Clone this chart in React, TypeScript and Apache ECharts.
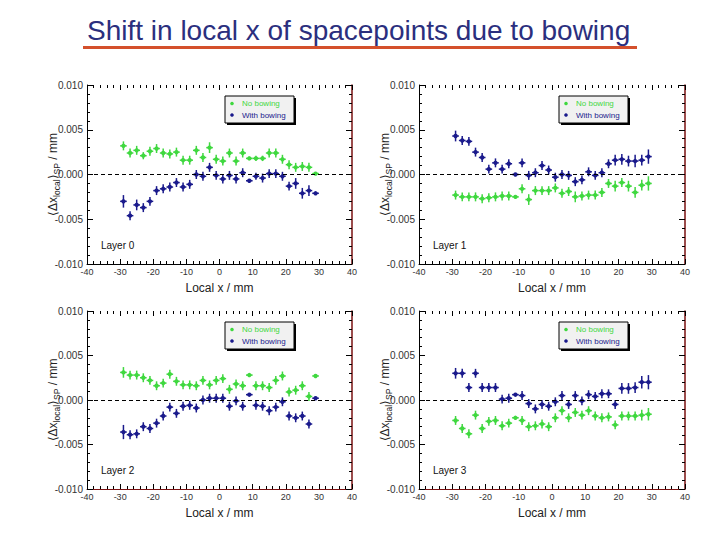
import React, { useEffect, useRef } from "react";
import * as echarts from "echarts";

const X_CENTERS = [-29, -27, -25, -23, -21, -19, -17, -15, -13, -11, -9, -7, -5, -3, -1, 1, 3, 5, 7, 9, 11, 13, 15, 17, 19, 21, 23, 25, 27, 29];
const X_HALF_WIDTH = 1;
const X_TICKS = { min: -40, max: 40, interval: 10 };
const Y_TICKS = { min: -0.01, max: 0.01, interval: 0.005 };

const LAYER_NAMES = ["Layer 0", "Layer 1", "Layer 2", "Layer 3"];
const SERIES_NAMES = ["No bowing", "With bowing"];

// Layer 0
const L0_NO = [0.0032, 0.0024, 0.0027, 0.0021, 0.0026, 0.0029, 0.0024, 0.0023, 0.0025, 0.0016, 0.0016, 0.0027, 0.0019, 0.0030, 0.0017, 0.0015, 0.0024, 0.0015, 0.0024, 0.0018, 0.0018, 0.0018, 0.0024, 0.0024, 0.0017, 0.0011, 0.0008, 0.0009, 0.0008, 0.0001];
const L0_NO_ERR = [0.0005, 0.0005, 0.0005, 0.0004, 0.0005, 0.0005, 0.0005, 0.0005, 0.0005, 0.0005, 0.0005, 0.0005, 0.0005, 0.0006, 0.0005, 0.0005, 0.0005, 0.0005, 0.0005, 0.0002, 0.0003, 0.0003, 0.0005, 0.0005, 0.0005, 0.0005, 0.0005, 0.0005, 0.0005, 0.0001];
const L0_WITH = [-0.0030, -0.0046, -0.0034, -0.0037, -0.0030, -0.0018, -0.0016, -0.0014, -0.0009, -0.0014, -0.0011, 0.0000, -0.0002, 0.0008, -0.0001, -0.0005, -0.0001, -0.0005, 0.0002, -0.0007, -0.0002, -0.0004, 0.0001, 0.0001, -0.0002, -0.0013, -0.0010, -0.0021, -0.0018, -0.0021];
const L0_WITH_ERR = [0.0007, 0.0005, 0.0006, 0.0005, 0.0005, 0.0005, 0.0005, 0.0005, 0.0005, 0.0005, 0.0005, 0.0005, 0.0005, 0.0005, 0.0005, 0.0005, 0.0005, 0.0005, 0.0005, 0.0001, 0.0004, 0.0005, 0.0005, 0.0005, 0.0005, 0.0005, 0.0006, 0.0006, 0.0006, 0.0001];

// Layer 1
const L1_NO = [-0.0023, -0.0025, -0.0025, -0.0025, -0.0027, -0.0026, -0.0025, -0.0024, -0.0024, -0.0025, -0.0016, -0.0028, -0.0018, -0.0018, -0.0018, -0.0015, -0.0021, -0.0019, -0.0025, -0.0024, -0.0023, -0.0023, -0.0020, -0.0010, -0.0013, -0.0009, -0.0013, -0.0020, -0.0012, -0.0010];
const L1_NO_ERR = [0.0005, 0.0005, 0.0005, 0.0005, 0.0005, 0.0005, 0.0005, 0.0005, 0.0005, 0.0001, 0.0005, 0.0006, 0.0005, 0.0005, 0.0005, 0.0005, 0.0005, 0.0005, 0.0006, 0.0005, 0.0005, 0.0005, 0.0005, 0.0005, 0.0006, 0.0005, 0.0006, 0.0006, 0.0006, 0.0008];
const L1_WITH = [0.0043, 0.0038, 0.0037, 0.0025, 0.0019, 0.0006, 0.0013, 0.0006, 0.0012, 0.0000, 0.0013, -0.0001, 0.0002, 0.0010, 0.0005, -0.0003, 0.0000, -0.0001, -0.0008, -0.0006, 0.0003, -0.0001, 0.0002, 0.0012, 0.0016, 0.0017, 0.0015, 0.0015, 0.0016, 0.0020];
const L1_WITH_ERR = [0.0006, 0.0005, 0.0005, 0.0005, 0.0005, 0.0005, 0.0005, 0.0005, 0.0005, 0.0001, 0.0005, 0.0005, 0.0005, 0.0005, 0.0005, 0.0005, 0.0005, 0.0005, 0.0005, 0.0005, 0.0005, 0.0005, 0.0005, 0.0005, 0.0006, 0.0006, 0.0006, 0.0007, 0.0006, 0.0008];

// Layer 2
const L2_NO = [0.0031, 0.0028, 0.0028, 0.0025, 0.0022, 0.0016, 0.0019, 0.0029, 0.0021, 0.0017, 0.0017, 0.0016, 0.0022, 0.0017, 0.0022, 0.0024, 0.0012, 0.0018, 0.0016, 0.0028, 0.0016, 0.0016, 0.0014, 0.0022, 0.0027, 0.0009, 0.0011, 0.0016, 0.0004, 0.0027];
const L2_NO_ERR = [0.0006, 0.0005, 0.0005, 0.0005, 0.0005, 0.0005, 0.0005, 0.0005, 0.0005, 0.0005, 0.0005, 0.0005, 0.0005, 0.0005, 0.0005, 0.0005, 0.0005, 0.0005, 0.0005, 0.0001, 0.0005, 0.0005, 0.0005, 0.0005, 0.0005, 0.0005, 0.0005, 0.0005, 0.0005, 0.0001];
const L2_WITH = [-0.0036, -0.0039, -0.0038, -0.0030, -0.0032, -0.0026, -0.0018, -0.0008, -0.0015, -0.0007, -0.0006, -0.0009, 0.0000, 0.0002, 0.0002, 0.0002, -0.0007, -0.0001, -0.0007, 0.0006, -0.0006, -0.0007, -0.0012, -0.0008, -0.0002, -0.0018, -0.0020, -0.0018, -0.0027, 0.0002];
const L2_WITH_ERR = [0.0008, 0.0005, 0.0005, 0.0005, 0.0005, 0.0005, 0.0005, 0.0005, 0.0005, 0.0005, 0.0005, 0.0005, 0.0005, 0.0005, 0.0005, 0.0005, 0.0005, 0.0005, 0.0005, 0.0001, 0.0005, 0.0005, 0.0005, 0.0005, 0.0005, 0.0005, 0.0005, 0.0005, 0.0005, 0.0001];

// Layer 3
const L3_NO = [-0.0023, -0.0032, -0.0038, -0.0017, -0.0032, -0.0024, -0.0023, -0.0029, -0.0026, -0.0020, -0.0023, -0.0030, -0.0029, -0.0027, -0.0030, -0.0020, -0.0012, -0.0020, -0.0014, -0.0017, -0.0012, -0.0018, -0.0020, -0.0019, -0.0028, -0.0018, -0.0018, -0.0018, -0.0017, -0.0016];
const L3_NO_ERR = [0.0005, 0.0005, 0.0005, 0.0005, 0.0005, 0.0005, 0.0005, 0.0005, 0.0005, 0.0001, 0.0005, 0.0005, 0.0005, 0.0005, 0.0005, 0.0005, 0.0005, 0.0005, 0.0005, 0.0005, 0.0005, 0.0005, 0.0005, 0.0005, 0.0005, 0.0005, 0.0005, 0.0005, 0.0006, 0.0007];
const L3_WITH = [0.0030, 0.0030, 0.0014, 0.0030, 0.0014, 0.0014, 0.0014, 0.0001, 0.0002, 0.0006, 0.0005, -0.0004, -0.0010, -0.0005, -0.0007, -0.0002, 0.0005, -0.0005, 0.0005, -0.0001, 0.0006, 0.0004, 0.0007, 0.0007, -0.0005, 0.0013, 0.0013, 0.0014, 0.0020, 0.0020];
const L3_WITH_ERR = [0.0006, 0.0005, 0.0005, 0.0005, 0.0005, 0.0005, 0.0005, 0.0005, 0.0005, 0.0001, 0.0005, 0.0005, 0.0005, 0.0005, 0.0005, 0.0005, 0.0005, 0.0005, 0.0005, 0.0005, 0.0005, 0.0005, 0.0005, 0.0005, 0.0005, 0.0006, 0.0006, 0.0006, 0.0007, 0.0008];

const PANEL_DATA = [
  { no: L0_NO, noErr: L0_NO_ERR, withB: L0_WITH, withErr: L0_WITH_ERR },
  { no: L1_NO, noErr: L1_NO_ERR, withB: L1_WITH, withErr: L1_WITH_ERR },
  { no: L2_NO, noErr: L2_NO_ERR, withB: L2_WITH, withErr: L2_WITH_ERR },
  { no: L3_NO, noErr: L3_NO_ERR, withB: L3_WITH, withErr: L3_WITH_ERR },
];

const GREEN = "#3fd83f";
const NAVY = "#1a1a8c";
const FONT = "'Liberation Sans', Arial, Helvetica, sans-serif";

const GRIDS = [
  { left: 87, top: 85, width: 265, height: 179 },
  { left: 419, top: 85, width: 266, height: 179 },
  { left: 87, top: 311, width: 265, height: 178 },
  { left: 419, top: 311, width: 266, height: 178 },
];

function fmtY(v: number) {
  if (Math.abs(v) < 1e-9) return "0.000";
  return v.toFixed(3);
}

function makeRender(color: string) {
  return (params: any, api: any) => {
    const x = api.value(0);
    const y = api.value(1);
    const e = api.value(2);
    const c = api.coord([x, y]);
    const l = api.coord([x - X_HALF_WIDTH, y]);
    const r = api.coord([x + X_HALF_WIDTH, y]);
    const t = api.coord([x, y + e]);
    const b = api.coord([x, y - e]);
    return {
      type: "group",
      children: [
        { type: "line", shape: { x1: l[0], y1: c[1], x2: r[0], y2: c[1] }, style: { stroke: color, lineWidth: 1.5 } },
        { type: "line", shape: { x1: c[0], y1: t[1], x2: c[0], y2: b[1] }, style: { stroke: color, lineWidth: 1.5 } },
        { type: "circle", shape: { cx: c[0], cy: c[1], r: 2.2 }, style: { fill: color } },
      ],
    };
  };
}

export default function App() {
  const ref = useRef<HTMLDivElement>(null);

  useEffect(() => {
    document.body.style.margin = "0";
    if (!ref.current) return;
    const chart = echarts.init(ref.current, null, { renderer: "svg" });

    const grid: any[] = [];
    const xAxis: any[] = [];
    const yAxis: any[] = [];
    const series: any[] = [];
    const graphic: any[] = [];

    GRIDS.forEach((g, p) => {
      const bottomRed = p >= 2;
      grid.push({ ...g, containLabel: false, outerBoundsMode: "none" });
      xAxis.push({
        type: "value",
        gridIndex: p,
        position: "bottom",
        ...X_TICKS,
        name: "Local x / mm",
        nameLocation: "middle",
        nameGap: 18,
        nameMoveOverlap: false,
        nameTextStyle: { fontFamily: FONT, fontSize: 12, color: "#222" },
        axisLine: { show: true, onZero: false, lineStyle: { color: bottomRed ? "#7a1010" : "#000", width: 1 } },
        axisTick: { show: true, inside: true, length: 5, lineStyle: { color: "#000" } },
        minorTick: { show: true, splitNumber: 5, length: 3, lineStyle: { color: "#000" } },
        axisLabel: { fontFamily: FONT, fontSize: 9, color: "#333", margin: 3 },
        splitLine: { show: false },
      });
      xAxis.push({
        type: "value",
        gridIndex: p,
        position: "top",
        ...X_TICKS,
        axisLine: { show: false, onZero: false },
        axisTick: { show: true, inside: true, length: 5, lineStyle: { color: "#000" } },
        minorTick: { show: true, splitNumber: 5, length: 3, lineStyle: { color: "#000" } },
        axisLabel: { show: false },
        splitLine: { show: false },
      });
      yAxis.push({
        type: "value",
        gridIndex: p,
        position: "left",
        ...Y_TICKS,
        name: "⟨Δx{sub|local}⟩{sub|SP} / mm",
        nameLocation: "middle",
        nameRotate: 90,
        nameGap: 26,
        nameMoveOverlap: false,
        nameTextStyle: {
          fontFamily: FONT,
          fontSize: 12,
          color: "#222",
          lineHeight: 16,
          rich: {
            sub: { fontFamily: FONT, fontSize: 8.5, color: "#222", lineHeight: 8, verticalAlign: "bottom" },
          },
        },
        axisLine: { show: true, onZero: false, lineStyle: { color: "#000", width: 1 } },
        axisTick: { show: true, inside: true, length: 6, lineStyle: { color: "#000" } },
        minorTick: { show: true, splitNumber: 5, length: 3, lineStyle: { color: "#000" } },
        axisLabel: { fontFamily: FONT, fontSize: 10, color: "#333", margin: 4, formatter: fmtY },
        splitLine: { show: false },
      });
      yAxis.push({
        type: "value",
        gridIndex: p,
        position: "right",
        ...Y_TICKS,
        axisLine: { show: true, onZero: false, lineStyle: { color: "#7a1010", width: 1.5 } },
        axisTick: { show: true, inside: true, length: 6, lineStyle: { color: "#000" } },
        minorTick: { show: true, splitNumber: 5, length: 3, lineStyle: { color: "#000" } },
        axisLabel: { show: false },
        splitLine: { show: false },
      });

      const d = PANEL_DATA[p];
      const noData = X_CENTERS.map((x, i) => [x, d.no[i], d.noErr[i]]);
      const withData = X_CENTERS.map((x, i) => [x, d.withB[i], d.withErr[i]]);

      series.push({
        type: "custom",
        name: SERIES_NAMES[0],
        xAxisIndex: p * 2,
        yAxisIndex: p * 2,
        data: noData,
        renderItem: makeRender(GREEN),
        encode: { x: 0, y: 1 },
        z: 3,
        markLine: {
          silent: true,
          symbol: "none",
          label: { show: false },
          lineStyle: { type: [4, 3], color: "#000", width: 1 },
          data: [{ yAxis: 0 }],
        },
      });
      series.push({
        type: "custom",
        name: SERIES_NAMES[1],
        xAxisIndex: p * 2,
        yAxisIndex: p * 2,
        data: withData,
        renderItem: makeRender(NAVY),
        encode: { x: 0, y: 1 },
        z: 4,
      });

      // Layer label
      graphic.push({
        type: "text",
        left: g.left + 14,
        top: g.top + g.height - 24,
        style: { text: LAYER_NAMES[p], fontFamily: FONT, fontSize: 10, fill: "#111" },
      });

      // Legend box
      const lx = g.left + (p % 2 === 0 ? 138 : 140);
      const ly = g.top + 11;
      const lw = 69;
      const lh = 27;
      graphic.push({ type: "rect", shape: { x: lx + 2, y: ly + 2, width: lw, height: lh }, style: { fill: "#000" }, z: 10 });
      graphic.push({ type: "rect", shape: { x: lx, y: ly, width: lw, height: lh }, style: { fill: "#f1f1f1", stroke: "#000", lineWidth: 1 }, z: 11 });
      graphic.push({ type: "circle", shape: { cx: lx + 7, cy: ly + 7.5, r: 1.8 }, style: { fill: GREEN }, z: 12 });
      graphic.push({ type: "circle", shape: { cx: lx + 7, cy: ly + 19, r: 1.8 }, style: { fill: NAVY }, z: 12 });
      graphic.push({
        type: "text",
        x: lx + 17,
        y: ly + 7.5,
        style: { text: SERIES_NAMES[0], fontFamily: FONT, fontSize: 8, fill: GREEN, verticalAlign: "middle" },
        z: 12,
      });
      graphic.push({
        type: "text",
        x: lx + 17,
        y: ly + 19,
        style: { text: SERIES_NAMES[1], fontFamily: FONT, fontSize: 8, fill: NAVY, verticalAlign: "middle" },
        z: 12,
      });
    });

    // Title and underline
    graphic.push({
      type: "text",
      x: 87,
      y: 30,
      style: {
        text: "Shift in local x of spacepoints due to bowing",
        fontFamily: FONT,
        fontSize: 28,
        fill: "#2b2f7e",
        verticalAlign: "middle",
      },
    });
    graphic.push({
      type: "line",
      shape: { x1: 83, y1: 47.5, x2: 637, y2: 47.5 },
      style: { stroke: "#d4502c", lineWidth: 3 },
    });

    chart.setOption({
      animation: false,
      backgroundColor: "#ffffff",
      grid,
      xAxis,
      yAxis,
      series,
      graphic,
    });

    return () => chart.dispose();
  }, []);

  return <div ref={ref} style={{ width: 720, height: 540 }} />;
}
